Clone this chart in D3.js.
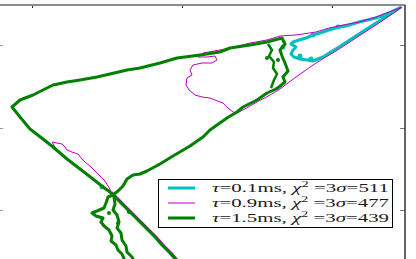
<!DOCTYPE html>
<html>
<head>
<meta charset="utf-8">
<script src="https://cdn.jsdelivr.net/npm/d3@7"></script>
<style>
    body { margin: 0; background: #fff; }
    svg { display: block; }
    .legend-text { font-family: "Liberation Serif", "DejaVu Serif", serif; font-size: 13px; fill: #1a1a1a; }
</style>
</head>
<body>
<div id="chart"></div>
<script>

/* * * * * * * * * * * * * *
 *       chi2 contours     *
 * * * * * * * * * * * * * */

// tick positions (no labels are shown on this crop)
const xTicks = [0, 150, 300];
const yTicks = [0, 82, 165];

// legend labels
const tauLabels = ['0.1', '0.9', '1.5'];
const chiLabels = ['511', '477', '439'];

// tau = 0.1ms contour (closed loop at the tip)
const cyanLoop = [[369,203],[357,197],[344,192],[327,188],[314,184],[307,183],[297,180],[288,177],[281,175],
    [274,172],[267,170],[261,168],[259,166],[264,163],[261,160],[259,156],[262,153],[268,151],[275,150],
    [281,149],[286,151],[291,153],[307,163],[327,176],[344,187],[357,195],[369,203]];
const cyanDots = [[281,175],[306,183],[251,163],[268,154],[279,151],[70,23]];

// tau = 0.9ms contours
const magentaLoop = [[370,203],[357,198],[344,193],[327,188],[311,185],[297,182],[284,178],[264,175],[248,174],
    [235,170],[218,167],[198,162],[188,160],[171,157],[166,153],[175,153],[183,154],[185,150],[180,147],
    [170,147],[161,145],[158,140],[160,135],[155,132],[154,125],[157,120],[163,115],[170,113],[178,112],
    [183,110],[191,107],[196,102],[201,98],[205,97],[211,100],[225,108],[238,115],[248,121],[264,133],
    [284,147],[304,159],[327,174],[344,185],[357,194],[370,203]];
const magentaSliver = [[20,68],[30,66],[33,63],[35,60],[40,58],[46,56],[50,51],[53,48],[58,44],[63,39],
    [68,34],[73,29],[76,24],[79,19],[72,22],[62,30],[49,40],[36,50],[24,61],[20,68]];
const magentaTail = [[80,18],[87,11],[95,3],[102,-4],[110,-12],[117,-19],[125,-27],[132,-35],[140,-43],[147,-51]];

// tau = 1.5ms contours
const greenMain = [[145,-51],[138,-43],[130,-35],[123,-27],[115,-19],[108,-12],[100,-4],[93,3],[85,11],[78,18],
    [71,23],[61,31],[48,41],[35,51],[21,63],[11,71],[-2,81],[-12,93],[-20,103],[-12,110],[1,115],[15,122],
    [21,125],[26,126],[35,128],[48,130],[65,133],[78,136],[95,140],[108,142],[128,147],[145,152],[168,155],
    [188,158],[198,162],[218,165],[235,168],[250,172],[253,166],[248,160],[250,154],[253,147],[256,139],
    [251,133],[253,128],[247,123],[244,121],[235,117],[225,110],[211,103],[205,98],[195,92],[185,85],
    [178,80],[171,73],[158,64],[141,54],[128,46],[115,39],[108,36],[101,35],[95,31],[91,24],[86,19],
    [81,15],[76,13],[74,7],[72,2],[65,-1],[60,-3],[64,-6],[71,-8],[69,-12],[72,-16],[77,-20],[80,-26],
    [79,-31],[84,-35],[86,-40],[90,-44],[93,-51]];
const greenBlob = [[81,15],[82,13],[83,6],[81,0],[85,-5],[87,-12],[85,-18],[89,-23],[90,-30],[94,-36],
    [95,-42],[100,-47],[102,-51]];
const greenRight = [[236,166],[240,160],[237,154],[242,148],[241,142],[245,136],[242,130],[239,122]];
const greenDots = [[86,-13],[235,152],[97,-2],[77,-3],[246,150]];

class ContourVis {
    constructor(parentElement) {
        this.parentElement = parentElement;
        this.initVis();
    }

    initVis() {
        let vis = this;

        const width = 416;
        const height = 259;

        vis.margin = { top: 5, right: 11, bottom: 0, left: 0 };
        vis.width = width - vis.margin.left - vis.margin.right;
        vis.height = height - vis.margin.top - vis.margin.bottom;

        vis.svg = d3
            .select('#' + vis.parentElement)
            .append('svg')
            .attr('width', width)
            .attr('height', height)
            .append('g')
            .attr('transform', `translate(${vis.margin.left}, ${vis.margin.top})`);

        vis.x = d3.scaleLinear().domain([-32, 373]).range([0, vis.width]);
        vis.y = d3.scaleLinear().domain([-49, 205]).range([vis.height, 0]);

        vis.line = d3.line()
            .x(d => vis.x(d[0]))
            .y(d => vis.y(d[1]));

        vis.colors = { c: '#00bfbf', m: '#bf00bf', g: '#008000' };

        vis.drawAxes();
        vis.updateVis();
        vis.drawLegend();
    }

    drawAxes() {
        let vis = this;

        // top ticks, pointing in
        let top = vis.svg.append('g')
            .call(d3.axisTop(vis.x).tickValues(xTicks).tickSize(-3).tickSizeOuter(0).tickFormat(''));
        top.select('.domain').remove();
        top.selectAll('line').attr('stroke', '#222');

        // right ticks
        let right = vis.svg.append('g')
            .attr('transform', `translate(${vis.width}, 0)`)
            .call(d3.axisRight(vis.y).tickValues(yTicks).tickSize(-5).tickSizeOuter(0).tickFormat(''));
        right.select('.domain').remove();
        right.selectAll('line').attr('stroke', '#777');

        // left ticks (spine itself is cut off)
        let left = vis.svg.append('g')
            .attr('transform', 'translate(-1, 0)')
            .call(d3.axisLeft(vis.y).tickValues(yTicks).tickSize(-4).tickSizeOuter(0).tickFormat(''));
        left.select('.domain').remove();
        left.selectAll('line').attr('stroke', '#999');

        // spines
        vis.svg.append('line')
            .attr('x1', 0).attr('x2', vis.width)
            .attr('y1', 0).attr('y2', 0)
            .attr('stroke', '#8c8c8c').attr('stroke-width', 2);

        vis.svg.append('line')
            .attr('x1', vis.width).attr('x2', vis.width)
            .attr('y1', 0).attr('y2', vis.height)
            .attr('stroke', '#333').attr('stroke-width', 1.5);
    }

    updateVis() {
        let vis = this;

        let paths = [
            { d: cyanLoop, c: vis.colors.c, w: 3 },
            { d: magentaLoop, c: vis.colors.m, w: 1 },
            { d: magentaSliver, c: vis.colors.m, w: 1 },
            { d: magentaTail, c: vis.colors.m, w: 1.2 },
            { d: greenMain, c: vis.colors.g, w: 3 },
            { d: greenBlob, c: vis.colors.g, w: 3 },
            { d: greenRight, c: vis.colors.g, w: 2.5 }
        ];

        let plot = vis.svg.append('g');

        plot.selectAll('.contour')
            .data(paths)
            .enter()
            .append('path')
            .attr('class', 'contour')
            .attr('d', d => vis.line(d.d))
            .attr('fill', 'none')
            .attr('stroke', d => d.c)
            .attr('stroke-width', d => d.w)
            .attr('stroke-linejoin', 'round');

        // cyan dots go under magenta/green, so insert them first
        plot.selectAll('.cdot')
            .data(cyanDots)
            .enter()
            .insert('circle', '.contour')
            .attr('class', 'cdot')
            .attr('cx', d => vis.x(d[0]))
            .attr('cy', d => vis.y(d[1]))
            .attr('r', 2.5)
            .attr('fill', vis.colors.c);

        plot.selectAll('.gdot')
            .data(greenDots)
            .enter()
            .append('circle')
            .attr('class', 'gdot')
            .attr('cx', d => vis.x(d[0]))
            .attr('cy', d => vis.y(d[1]))
            .attr('r', 2)
            .attr('fill', vis.colors.g);
    }

    drawLegend() {
        let vis = this;

        let legend = vis.svg.append('g')
            .attr('transform', `translate(158, ${179 - vis.margin.top})`);

        legend.append('rect')
            .attr('x', 0.5).attr('y', 0.5)
            .attr('width', 234).attr('height', 48)
            .attr('fill', '#fff')
            .attr('stroke', '#000')
            .attr('stroke-width', 1);

        let entries = [
            { c: vis.colors.c, w: 3 },
            { c: vis.colors.m, w: 1 },
            { c: vis.colors.g, w: 3 }
        ];

        entries.forEach((e, i) => {
            let yy = 9 + i * 15;

            legend.append('line')
                .attr('x1', 10).attr('x2', 37)
                .attr('y1', yy).attr('y2', yy)
                .attr('stroke', e.c)
                .attr('stroke-width', e.w);

            // the picture is stretched sideways, so stretch the glyphs too
            let t = legend.append('text')
                .attr('class', 'legend-text')
                .attr('x', 54)
                .attr('y', yy + 4)
                .attr('textLength', 177)
                .attr('lengthAdjust', 'spacingAndGlyphs');

            t.append('tspan').attr('font-style', 'italic').text('τ');
            t.append('tspan').text('=' + tauLabels[i] + 'ms, ');
            t.append('tspan').attr('font-style', 'italic').text('χ');
            t.append('tspan').attr('font-size', '9px').attr('dy', -5).text('2');
            t.append('tspan').attr('dy', 5).text('  =3');
            t.append('tspan').attr('font-style', 'italic').text('σ');
            t.append('tspan').text('=' + chiLabels[i]);
        });
    }
}

new ContourVis('chart');

</script>
</body>
</html>
